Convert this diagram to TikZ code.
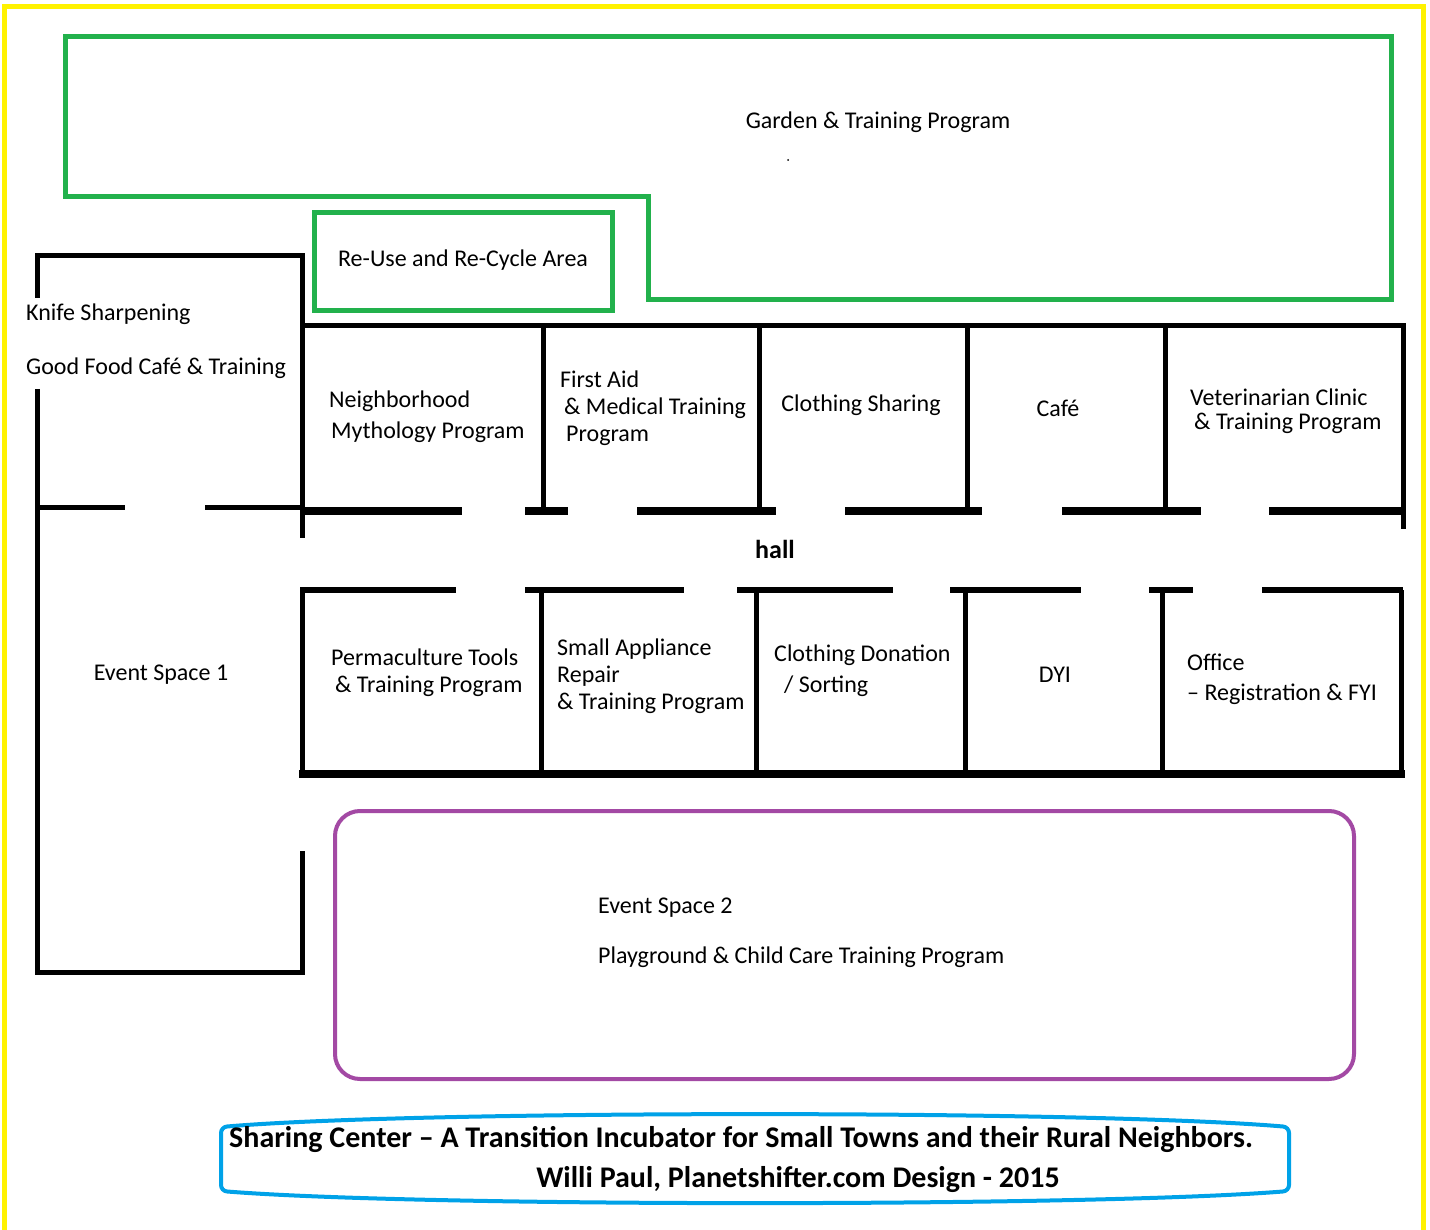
\documentclass[tikz,border=0pt]{standalone}
\usepackage{fontspec}
\setmainfont{Carlito}
\usetikzlibrary{positioning}

\definecolor{paintgreen}{HTML}{22B14C}
\definecolor{paintyellow}{HTML}{FFF200}
\definecolor{paintpurple}{HTML}{A349A4}
\definecolor{paintblue}{HTML}{00A2E8}

\begin{document}
\begin{tikzpicture}[x=1pt,y=-1pt]
\tikzstyle{wall} = [draw=black, line width=5pt]
\tikzstyle{hallwall} = [draw=black, line width=8pt]
\tikzstyle{doorwall} = [draw=black, line width=6pt]
\tikzstyle{greenline} = [draw=paintgreen, line width=5pt]
\tikzstyle{roomtext} = [font=\fontsize{24}{27}\selectfont, inner sep=0pt, align=left]
\tikzstyle{titletext} = [font=\fontsize{30}{34}\selectfont\bfseries, inner sep=0pt]
\useasboundingbox (0,0) rectangle (1430,1230);
\fill[white] (0,0) rectangle (1430,1230);

% frame and garden
\draw[paintyellow, line width=5pt] (4,1232) -- (4,7) -- (1423,7) -- (1423,1232);
\draw[greenline] (65,37) -- (1391,37) -- (1391,300) -- (648,300) -- (648,197) -- (65,197) -- cycle;
\draw[greenline] (314,213) rectangle (612,311);

% left building
\draw[wall] (37,298) -- (37,256) -- (302,256) -- (302,538);
\draw[wall] (37,389) -- (37,972) -- (302,972) -- (302,851);
\draw[wall] (37,507) -- (125,507);
\draw[wall] (205,507) -- (302,507);

% top row of rooms
\draw[wall] (302,326) -- (1403,326) -- (1403,529);
\foreach \x in {543,759,967,1165}
  \draw[wall] (\x,326) -- (\x,511);
\foreach \a/\b in {302/462,525/568,637/776,845/982,1062/1201,1269/1406}
  \draw[hallwall] (\a,511) -- (\b,511);

% bottom row of rooms
\foreach \a/\b in {300/456,525/684,737/893,950/1081,1149/1193,1262/1403}
  \draw[doorwall] (\a,590) -- (\b,590);
\draw[wall] (302,590) -- (302,778);
\foreach \x in {541,756,965,1162,1401}
  \draw[wall] (\x,590) -- (\x,774);
\draw[hallwall] (299,774) -- (1405,774);

% event space 2 and title
\draw[paintpurple, line width=4pt, rounded corners=25pt] (335,811) rectangle (1354,1079);
\draw[paintblue, line width=4pt, rounded corners=6pt] (221,1127) .. controls (420,1110) and (1090,1110) .. (1289,1127)
  -- (1289,1191) .. controls (1090,1207) and (420,1207) .. (221,1191) -- cycle;

% room names
\node[roomtext] (garden) at (878,122) {Garden \& Training Program};
\fill (788,160) circle (1);
\node[roomtext] (reuse) at (463,260) {Re-Use and Re-Cycle Area};
\node[roomtext, anchor=west] (knife) at (26,314) {Knife Sharpening};
\node[roomtext, anchor=west] (goodfood) at (26,368) {Good Food Café \& Training};
\node[roomtext, anchor=west] (mythology) at (329,417) {Neighborhood\\[4pt]\hspace*{2pt}Mythology Program};
\node[roomtext, anchor=west] (firstaid) at (560,408) {First Aid\\\hspace*{4pt}\& Medical Training\\\hspace*{6pt}Program};
\node[roomtext] (clothing) at (861,405) {Clothing Sharing};
\node[roomtext] (cafe) at (1058,408) {Café};
\node[roomtext, anchor=west] (vet) at (1190,411) {Veterinarian Clinic\\[-3pt]\hspace*{4pt}\& Training Program};
\node[font=\fontsize{26}{30}\selectfont\bfseries, inner sep=0pt] (hall) at (775,549) {hall};
\node[roomtext] (event1) at (161,675) {Event Space 1};
\node[roomtext, anchor=west] (permaculture) at (331,673) {Permaculture Tools\\\hspace*{4pt}\& Training Program};
\node[roomtext, anchor=west] (repair) at (557,676) {Small Appliance\\Repair\\\& Training Program};
\node[roomtext, anchor=west] (donation) at (774,671) {Clothing Donation\\[4pt]\hspace*{10pt}/ Sorting};
\node[roomtext] (dyi) at (1055,675) {DYI};
\node[roomtext, anchor=west] (office) at (1187,679) {Office\\[3pt]– Registration \& FYI};
\node[roomtext, anchor=west] (event2) at (598,908) {Event Space 2};
\node[roomtext, anchor=west] (playground) at (598,957) {Playground \& Child Care Training Program};
\node[titletext, anchor=west] (title) at (229,1139) {Sharing Center – A Transition Incubator for Small Towns and their Rural Neighbors.};
\node[titletext] (credit) at (798,1180) {Willi Paul, Planetshifter.com Design - 2015};
\end{tikzpicture}
\end{document}
